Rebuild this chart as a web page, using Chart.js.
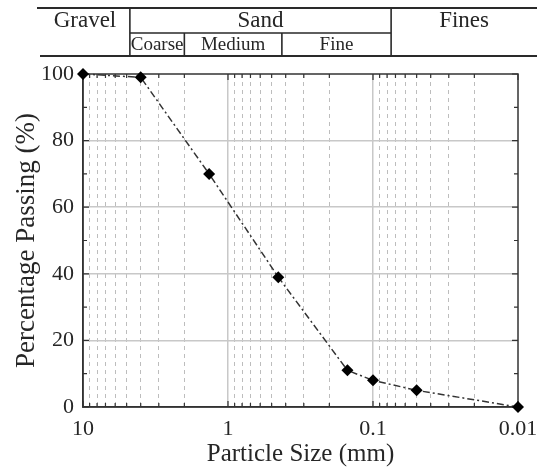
<!DOCTYPE html>
<html>
<head>
<meta charset="utf-8">
<script src="https://cdn.jsdelivr.net/npm/chart.js@4/dist/chart.umd.min.js"></script>
<style>
  html, body { margin: 0; padding: 0; background: #fff; }
  canvas { display: block; }
</style>
</head>
<body>
<canvas id="chart" width="537" height="471"></canvas>
<script>
// Grain-size distribution: sieve / hydrometer results
const particleSize = [10, 4, 1.35, 0.45, 0.15, 0.1, 0.05, 0.01];   // mm
const percentPassing = [100, 99, 70, 39, 11, 8, 5, 0];            // %

// Labelled decades on the size axis
const sizeTicks = [10, 1, 0.1, 0.01];
const sizeTickLabels = ['10', '1', '0.1', '0.01'];
// Intermediate log positions (dashed grid)
const sizeMinorTicks = [9, 8, 7, 6, 5, 4, 3, 2,
                        0.9, 0.8, 0.7, 0.6, 0.5, 0.4, 0.3, 0.2,
                        0.09, 0.08, 0.07, 0.06, 0.05, 0.04, 0.03, 0.02];
const passingTicks = [0, 20, 40, 60, 80, 100];
const passingMinorTicks = [10, 30, 50, 70, 90];

// Soil classification bands (mm boundaries)
const gravelSandLimit = 4.75;
const sandFinesLimit = 0.075;
const sandSubLimits = [2.0, 0.425];
const mainBands = ['Gravel', 'Sand', 'Fines'];
const sandBands = ['Coarse', 'Medium', 'Fine'];

const SERIF = "'Liberation Serif', 'Times New Roman', serif";
const INK = '#262626';

const frameAndTicks = {
  id: 'frameAndTicks',
  beforeDatasetsDraw(chart) {
    const { ctx, chartArea: a, scales } = chart;
    const x = scales.x, y = scales.y;
    ctx.save();
    ctx.strokeStyle = '#333';
    ctx.lineWidth = 1.5;
    ctx.strokeRect(a.left, a.top, a.right - a.left, a.bottom - a.top);
    ctx.lineWidth = 1.2;
    ctx.beginPath();
    const tickX = (v, len) => {
      const px = x.getPixelForValue(v);
      ctx.moveTo(px, a.bottom); ctx.lineTo(px, a.bottom - len);
      ctx.moveTo(px, a.top); ctx.lineTo(px, a.top + len);
    };
    const tickY = (v, len) => {
      const py = y.getPixelForValue(v);
      ctx.moveTo(a.left, py); ctx.lineTo(a.left + len, py);
      ctx.moveTo(a.right, py); ctx.lineTo(a.right - len, py);
    };
    sizeMinorTicks.forEach(v => tickX(v, 4));
    sizeTicks.forEach(v => tickX(v, 6));
    passingMinorTicks.forEach(v => tickY(v, 4));
    passingTicks.forEach(v => tickY(v, 6));
    ctx.stroke();
    ctx.restore();
  }
};

const classificationHeader = {
  id: 'classificationHeader',
  afterDraw(chart) {
    const { ctx, width } = chart;
    const x = chart.scales.x;
    const top = 8, mid = 33, bottom = 56;
    const xGS = x.getPixelForValue(gravelSandLimit);
    const xSF = x.getPixelForValue(sandFinesLimit);
    const xSub = sandSubLimits.map(v => x.getPixelForValue(v));
    ctx.save();
    ctx.strokeStyle = '#2a2a2a';
    ctx.lineWidth = 2;
    ctx.beginPath();
    ctx.moveTo(37, top); ctx.lineTo(width, top);
    ctx.moveTo(40, bottom); ctx.lineTo(width, bottom);
    ctx.stroke();
    ctx.lineWidth = 1.6;
    ctx.beginPath();
    ctx.moveTo(xGS, top); ctx.lineTo(xGS, bottom);
    ctx.moveTo(xSF, top); ctx.lineTo(xSF, bottom);
    ctx.moveTo(xGS, mid); ctx.lineTo(xSF, mid);
    xSub.forEach(px => { ctx.moveTo(px, mid); ctx.lineTo(px, bottom); });
    ctx.stroke();

    ctx.fillStyle = INK;
    ctx.textAlign = 'center';
    ctx.textBaseline = 'alphabetic';
    ctx.font = `23px ${SERIF}`;
    const mainEdges = [40, xGS, xSF, width];
    mainBands.forEach((t, i) => {
      ctx.fillText(t, (mainEdges[i] + mainEdges[i + 1]) / 2, 27);
    });
    ctx.font = `19px ${SERIF}`;
    const subEdges = [xGS, ...xSub, xSF];
    sandBands.forEach((t, i) => {
      ctx.fillText(t, (subEdges[i] + subEdges[i + 1]) / 2, 50);
    });
    ctx.restore();
  }
};

const points = particleSize.map((s, i) => ({ x: s, y: percentPassing[i] }));

new Chart(document.getElementById('chart'), {
  type: 'line',
  data: {
    datasets: [{
      data: points,
      borderColor: '#333',
      borderWidth: 1.5,
      borderDash: [7, 3, 2, 3],
      pointStyle: 'rectRot',
      pointRadius: 6,
      pointBackgroundColor: '#000',
      pointBorderColor: '#000',
      pointBorderWidth: 0,
      fill: false,
      tension: 0,
      clip: false
    }]
  },
  options: {
    responsive: false,
    animation: false,
    events: [],
    layout: { padding: { top: 74, right: 19, left: 0, bottom: 0 } },
    plugins: { legend: { display: false }, tooltip: { enabled: false } },
    scales: {
      x: {
        type: 'logarithmic',
        position: 'bottom',
        reverse: true,
        min: 0.01,
        max: 10,
        afterBuildTicks: s => { s.ticks = sizeTicks.map(v => ({ value: v })); },
        afterFit: s => { s.height = 64; s.paddingLeft = 0; s.paddingRight = 0; },
        ticks: {
          autoSkip: false,
          maxRotation: 0,
          padding: 11,
          color: INK,
          font: { family: SERIF, size: 22, lineHeight: 1 },
          callback: v => sizeTickLabels[sizeTicks.indexOf(v)]
        },
        grid: {
          drawTicks: false,
          lineWidth: 1.5,
          color: c => (c.tick && (c.tick.value === 1 || c.tick.value === 0.1)) ? '#c8c8c8' : 'rgba(0,0,0,0)'
        },
        border: { display: true, color: '#333', width: 1.5 },
        title: {
          display: true,
          text: 'Particle Size (mm)',
          color: INK,
          font: { family: SERIF, size: 25, lineHeight: 1 },
          padding: { top: 0, bottom: 4 }
        }
      },
      xMinor: {
        type: 'logarithmic',
        position: 'bottom',
        reverse: true,
        min: 0.01,
        max: 10,
        afterBuildTicks: s => { s.ticks = sizeMinorTicks.map(v => ({ value: v })); },
        afterFit: s => { s.height = 0; s.paddingLeft = 0; s.paddingRight = 0; },
        ticks: { display: false },
        grid: { drawTicks: false, lineWidth: 1, color: '#bdbdbd' },
        border: { display: false, dash: [4, 4] }
      },
      y: {
        type: 'linear',
        min: 0,
        max: 100,
        afterBuildTicks: s => { s.ticks = passingTicks.map(v => ({ value: v })); },
        afterFit: s => { s.width = 83; },
        ticks: {
          padding: 9,
          color: INK,
          font: { family: SERIF, size: 22, lineHeight: 1 }
        },
        grid: {
          drawTicks: false,
          lineWidth: 1.5,
          color: c => (c.tick && c.tick.value > 0 && c.tick.value < 100) ? '#c8c8c8' : 'rgba(0,0,0,0)'
        },
        border: { display: true, color: '#333', width: 1.5 },
        title: {
          display: true,
          text: 'Percentage Passing (%)',
          color: INK,
          font: { family: SERIF, size: 27, lineHeight: 1 },
          padding: { top: 13, bottom: 0 }
        }
      }
    }
  },
  plugins: [frameAndTicks, classificationHeader]
});
</script>
</body>
</html>
